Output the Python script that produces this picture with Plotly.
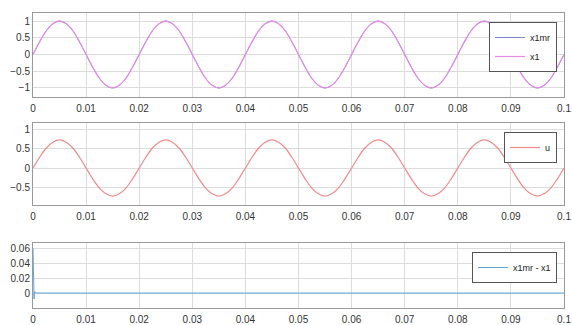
import plotly.graph_objects as go

# sample times (s), 16 samples per 0.02 s period
t = [0, 0.00125, 0.0025, 0.00375, 0.005, 0.00625, 0.0075, 0.00875,
     0.01, 0.01125, 0.0125, 0.01375, 0.015, 0.01625, 0.0175, 0.01875,
     0.02, 0.02125, 0.0225, 0.02375, 0.025, 0.02625, 0.0275, 0.02875,
     0.03, 0.03125, 0.0325, 0.03375, 0.035, 0.03625, 0.0375, 0.03875,
     0.04, 0.04125, 0.0425, 0.04375, 0.045, 0.04625, 0.0475, 0.04875,
     0.05, 0.05125, 0.0525, 0.05375, 0.055, 0.05625, 0.0575, 0.05875,
     0.06, 0.06125, 0.0625, 0.06375, 0.065, 0.06625, 0.0675, 0.06875,
     0.07, 0.07125, 0.0725, 0.07375, 0.075, 0.07625, 0.0775, 0.07875,
     0.08, 0.08125, 0.0825, 0.08375, 0.085, 0.08625, 0.0875, 0.08875,
     0.09, 0.09125, 0.0925, 0.09375, 0.095, 0.09625, 0.0975, 0.09875, 0.1]

x1 = [0, 0.38, 0.71, 0.92, 1, 0.92, 0.71, 0.38, 0, -0.38, -0.71, -0.92, -1, -0.92, -0.71, -0.38,
      0, 0.38, 0.71, 0.92, 1, 0.92, 0.71, 0.38, 0, -0.38, -0.71, -0.92, -1, -0.92, -0.71, -0.38,
      0, 0.38, 0.71, 0.92, 1, 0.92, 0.71, 0.38, 0, -0.38, -0.71, -0.92, -1, -0.92, -0.71, -0.38,
      0, 0.38, 0.71, 0.92, 1, 0.92, 0.71, 0.38, 0, -0.38, -0.71, -0.92, -1, -0.92, -0.71, -0.38,
      0, 0.38, 0.71, 0.92, 1, 0.92, 0.71, 0.38, 0, -0.38, -0.71, -0.92, -1, -0.92, -0.71, -0.38, 0]

x1mr = [0, 0.38, 0.71, 0.92, 1, 0.92, 0.71, 0.38, 0, -0.38, -0.71, -0.92, -1, -0.92, -0.71, -0.38,
        0, 0.38, 0.71, 0.92, 1, 0.92, 0.71, 0.38, 0, -0.38, -0.71, -0.92, -1, -0.92, -0.71, -0.38,
        0, 0.38, 0.71, 0.92, 1, 0.92, 0.71, 0.38, 0, -0.38, -0.71, -0.92, -1, -0.92, -0.71, -0.38,
        0, 0.38, 0.71, 0.92, 1, 0.92, 0.71, 0.38, 0, -0.38, -0.71, -0.92, -1, -0.92, -0.71, -0.38,
        0, 0.38, 0.71, 0.92, 1, 0.92, 0.71, 0.38, 0, -0.38, -0.71, -0.92, -1, -0.92, -0.71, -0.38, 0]

u = [0, 0.28, 0.52, 0.67, 0.73, 0.67, 0.52, 0.28, 0, -0.28, -0.52, -0.67, -0.73, -0.67, -0.52, -0.28,
     0, 0.28, 0.52, 0.67, 0.73, 0.67, 0.52, 0.28, 0, -0.28, -0.52, -0.67, -0.73, -0.67, -0.52, -0.28,
     0, 0.28, 0.52, 0.67, 0.73, 0.67, 0.52, 0.28, 0, -0.28, -0.52, -0.67, -0.73, -0.67, -0.52, -0.28,
     0, 0.28, 0.52, 0.67, 0.73, 0.67, 0.52, 0.28, 0, -0.28, -0.52, -0.67, -0.73, -0.67, -0.52, -0.28,
     0, 0.28, 0.52, 0.67, 0.73, 0.67, 0.52, 0.28, 0, -0.28, -0.52, -0.67, -0.73, -0.67, -0.52, -0.28, 0]

t_err = [0, 0.0001, 0.0002, 0.0003, 0.0005, 0.001, 0.02, 0.05, 0.1]
err = [0.06, 0.025, -0.008, 0.002, 0.0, 0.0, 0.0, 0.0, 0.0]

x_ticks = [0, 0.01, 0.02, 0.03, 0.04, 0.05, 0.06, 0.07, 0.08, 0.09, 0.1]
x_ticklabels = ["0", "0.01", "0.02", "0.03", "0.04", "0.05", "0.06", "0.07", "0.08", "0.09", "0.1"]

W, H = 572, 325
font = dict(family="Liberation Sans, Arial, sans-serif", size=10, color="#333333")
lfont = dict(family="Liberation Sans, Arial, sans-serif", size=9, color="#222222")
fig = go.Figure()

fig.add_trace(go.Scatter(x=t, y=x1mr, name="x1mr", mode="lines", line=dict(color="#7f86d8", width=1, shape="spline"),
                         xaxis="x", yaxis="y", legend="legend"))
fig.add_trace(go.Scatter(x=t, y=x1, name="x1", mode="lines", line=dict(color="#e68be6", width=1.2, shape="spline"),
                         xaxis="x", yaxis="y", legend="legend"))
fig.add_trace(go.Scatter(x=t, y=u, name="u", mode="lines", line=dict(color="#ef8a8a", width=1.2, shape="spline"),
                         xaxis="x2", yaxis="y2", legend="legend2"))
fig.add_trace(go.Scatter(x=t_err, y=err, name="x1mr - x1", mode="lines", line=dict(color="#5aa6d6", width=1),
                         xaxis="x3", yaxis="y3", legend="legend3"))

xd = [33 / W, 564 / W]

def xa(anchor):
    return dict(domain=xd, range=[0, 0.1], tickvals=x_ticks, ticktext=x_ticklabels, anchor=anchor,
                showline=True, linecolor="#9a9a9a", linewidth=1, mirror=True,
                showgrid=True, gridcolor="#dcdcdc", gridwidth=1, zeroline=False,
                ticks="", tickfont=font, ticklabelstandoff=2, automargin=False)

def ya(anchor, dom, rng, tv):
    return dict(domain=dom, range=rng, tickvals=tv, anchor=anchor,
                showline=True, linecolor="#9a9a9a", linewidth=1, mirror=True,
                showgrid=True, gridcolor="#dcdcdc", gridwidth=1, zeroline=False,
                ticks="", tickfont=font, automargin=False)

def pd(top, bot):
    return [1 - bot / H, 1 - top / H]

def leg(top):
    return dict(x=557 / W, y=1 - top / H, xanchor="right", yanchor="top", bgcolor="white",
                bordercolor="#555555", borderwidth=1, font=lfont, tracegroupgap=0, itemwidth=30)

fig.update_layout(
    width=W, height=H, margin=dict(l=0, r=0, t=0, b=0, autoexpand=False),
    paper_bgcolor="white", plot_bgcolor="white", font=font,
    xaxis=xa("y"), yaxis=ya("x", pd(13, 97), [-1.27, 1.24], [-1, -0.5, 0, 0.5, 1]),
    xaxis2=xa("y2"), yaxis2=ya("x2", pd(123, 205), [-0.96, 1.17], [-0.5, 0, 0.5, 1]),
    xaxis3=xa("y3"), yaxis3=ya("x3", pd(243, 308), [-0.02, 0.067], [0, 0.02, 0.04, 0.06]),
    legend=leg(22), legend2=leg(132), legend3=leg(252),
    showlegend=True,
)

fig.write_html("out.html", config={"displayModeBar": False},
               post_script="document.body.style.margin='0';document.body.style.overflow='hidden';")
